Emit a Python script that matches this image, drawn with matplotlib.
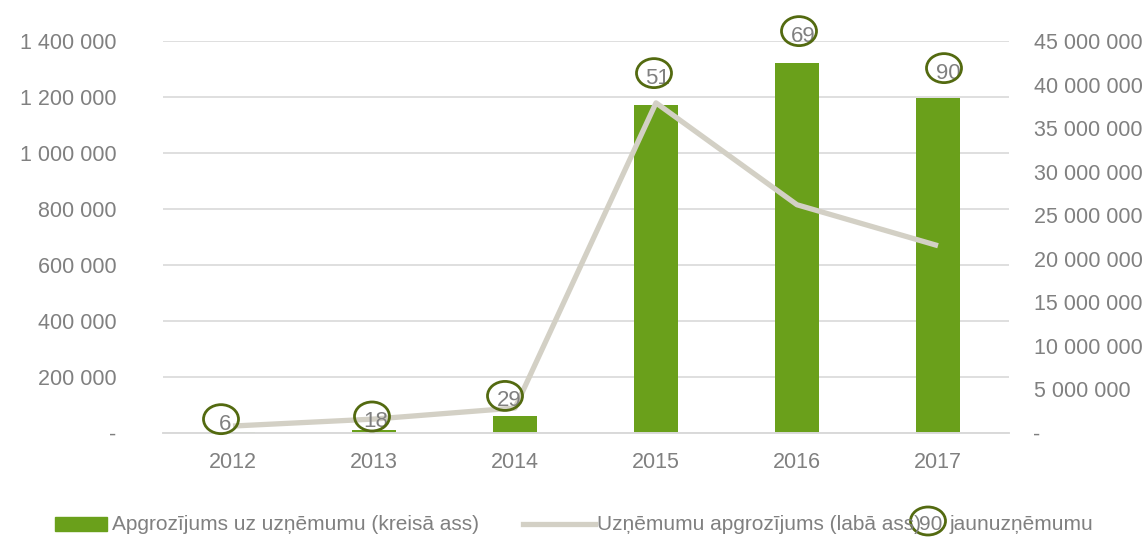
import matplotlib
matplotlib.use("Agg")
import matplotlib.pyplot as plt
from matplotlib.patches import Ellipse, Rectangle
from matplotlib.lines import Line2D
from matplotlib.transforms import IdentityTransform
from matplotlib.ticker import FuncFormatter

# Data
years = ["2012", "2013", "2014", "2015", "2016", "2017"]
turnover_per_company = [3000, 9000, 61000, 1171000, 1321000, 1196000]       # left axis
total_turnover = [800000, 1600000, 2870000, 37900000, 26200000, 21500000]   # right axis
new_companies = [6, 18, 29, 51, 69, 90]

left_ticks = [0, 200000, 400000, 600000, 800000, 1000000, 1200000, 1400000]
right_ticks = [0, 5000000, 10000000, 15000000, 20000000, 25000000,
               30000000, 35000000, 40000000, 45000000]

# Styling
BAR_COLOR = "#6aa01b"
LINE_COLOR = "#d3d0c5"
RING_COLOR = "#536a10"
TEXT_COLOR = "#808080"
GRID_COLOR = "#d9d9d9"
FONT = ["Liberation Sans", "DejaVu Sans"]
plt.rcParams["font.family"] = FONT
TICK_SIZE = 15.5

# bubble label offsets (pixels) relative to each bar top
ring_offsets = [(-12, 13), (-2, 14), (-10, 20), (-2, 32), (2, 32), (6, 30)]
RING_W, RING_H = 35, 29

W, H = 1144, 539
fig = plt.figure(figsize=(W / 100, H / 100), dpi=100)
ax = fig.add_axes([162.5 / W, 1 - 433 / H, (1008.5 - 162.5) / W, (433 - 41) / H])
ax2 = ax.twinx()

x = list(range(len(years)))
ax.bar(x, turnover_per_company, width=0.31, color=BAR_COLOR, zorder=2)
ax2.plot(x, total_turnover, color=LINE_COLOR, lw=3.8, solid_capstyle="butt", zorder=3)

ax.set_xlim(-0.5, len(years) - 0.5)
ax.set_ylim(0, 1400000)
ax2.set_ylim(0, 45000000)


def spaced(v, pos=None):
    if v == 0:
        return "-"
    return f"{int(round(v)):,}".replace(",", " ")


ax.set_yticks(left_ticks)
ax.yaxis.set_major_formatter(FuncFormatter(spaced))
ax2.set_yticks(right_ticks)
ax2.yaxis.set_major_formatter(FuncFormatter(spaced))
ax.set_xticks(x)
ax.set_xticklabels(years)

ax.grid(axis="y", color=GRID_COLOR, lw=1.2, zorder=0)
ax.set_axisbelow(True)
for a in (ax, ax2):
    for s in ("top", "left", "right"):
        a.spines[s].set_visible(False)
    a.spines["bottom"].set_color(GRID_COLOR)
    a.spines["bottom"].set_linewidth(1.2)
    a.tick_params(length=0, labelsize=TICK_SIZE, labelcolor=TEXT_COLOR)
ax.tick_params(axis="y", pad=33)
ax.tick_params(axis="x", pad=14)
ax2.tick_params(axis="y", pad=18)

# bubble labels for number of new companies
for i, (n, v) in enumerate(zip(new_companies, turnover_per_company)):
    dx, dy = ring_offsets[i]
    ax2.annotate(str(n), xy=(i, v), xycoords=ax.transData,
                 xytext=(dx + 4, dy - 5), textcoords="offset pixels",
                 ha="center", va="center", fontsize=16, color=TEXT_COLOR,
                 zorder=5, annotation_clip=False)
    px, py = ax.transData.transform((i, v))
    fig.patches.append(Ellipse((px + dx, py + dy), RING_W, RING_H,
                               transform=IdentityTransform(), fill=False,
                               edgecolor=RING_COLOR, lw=2, zorder=6,
                               figure=fig))

# legend
ly = H - 524
fig.patches.append(Rectangle((55, ly - 7), 52, 14, transform=IdentityTransform(),
                             color=BAR_COLOR, figure=fig))
fig.text(112 / W, ly / H, "Apgrozījums uz uzņēmumu (kreisā ass)", fontsize=15,
         color=TEXT_COLOR, va="center", ha="left")
fig.lines.append(Line2D([523, 595], [ly, ly], transform=IdentityTransform(),
                        color=LINE_COLOR, lw=3.8, figure=fig))
fig.text(597 / W, ly / H, "Uzņēmumu apgrozījums (labā ass)", fontsize=15,
         color=TEXT_COLOR, va="center", ha="left")
fig.text(919 / W, ly / H, "90", fontsize=15, color=TEXT_COLOR, va="center", ha="left")
fig.patches.append(Ellipse((928, H - 521), 35, 28, transform=IdentityTransform(),
                           fill=False, edgecolor=RING_COLOR, lw=2, figure=fig))
fig.text(950 / W, ly / H, "jaunuzņēmumu", fontsize=15, color=TEXT_COLOR,
         va="center", ha="left")

fig.savefig("out.png", dpi=100)
